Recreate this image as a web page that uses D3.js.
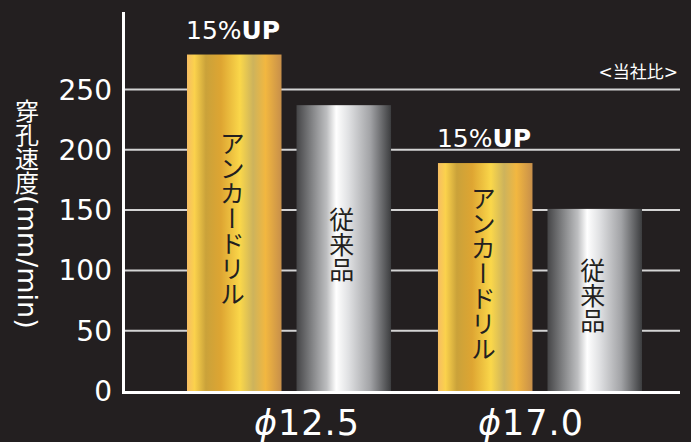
<!DOCTYPE html>
<html>
<head>
<meta charset="utf-8">
<script src="https://cdn.jsdelivr.net/npm/d3@7/dist/d3.min.js"></script>
<style>
  html, body { margin: 0; padding: 0; background: #231f20; }
  svg { display: block; }
</style>
</head>
<body>
<div id="chart"></div>
<script>
// data
var groups = ['ϕ12.5', 'ϕ17.0'];
var series = ['アンカードリル', '従来品'];
var anchorValues = [279, 189];
var conventionalValues = [237, 151];
var upLabels = ['15%', '15%'];
var yTicks = [0, 50, 100, 150, 200, 250];
var yTitle = '穿孔速度(mm/min)';
var noteText = '<当社比>';

var W = 691, H = 442;
var bg = '#231f20';
// nudges for the group labels, the original is not centred on the groups
var labelShift = [18, -9];

var svg = d3.select('#chart').
    append('svg').
    attr('width', W).
    attr('height', H);

svg.append('rect').attr('width', W).attr('height', H).attr('fill', bg);

// gradients
var defs = svg.append('defs');
var gold = defs.append('linearGradient').attr('id', 'gold').
    attr('x1', '0').attr('x2', '1').attr('y1', '0').attr('y2', '0');
[[0, '#f6bd63'], [0.08, '#fbd24c'], [0.2, '#caa23a'], [0.36, '#dea532'],
 [0.56, '#fad74a'], [0.7, '#cdb35c'], [0.83, '#f2b740'], [1, '#c78f4a']].
    forEach(function(s) { gold.append('stop').attr('offset', s[0]).attr('stop-color', s[1]); });
var silver = defs.append('linearGradient').attr('id', 'silver').
    attr('x1', '0').attr('x2', '1').attr('y1', '0').attr('y2', '0');
[[0, '#454547'], [0.15, '#7d7e80'], [0.32, '#bdbec0'], [0.42, '#ffffff'],
 [0.55, '#e0e1e3'], [0.78, '#a2a3a6'], [1, '#3c3d3f']].
    forEach(function(s) { silver.append('stop').attr('offset', s[0]).attr('stop-color', s[1]); });

// scales
var y = d3.scaleLinear().domain([0, 300]).range([391, 29.2]);
var x0 = d3.scaleBand().domain(groups).range([163.5, 665.5]).
    paddingInner(0.187).paddingOuter(0.0936);
var x1 = d3.scaleBand().domain(series).range([0, x0.bandwidth()]).paddingInner(0.137);

var plotLeft = 125, plotRight = 680;

// gridlines
svg.append('g').selectAll('line').
    data(yTicks.filter(function(t) { return t > 0; })).
    enter().
    append('line').
    attr('x1', plotLeft).attr('x2', plotRight).
    attr('y1', function(d) { return y(d); }).
    attr('y2', function(d) { return y(d); }).
    attr('stroke', '#d4d4d4').attr('stroke-width', 2);

// tick labels
svg.append('g').selectAll('text').
    data(yTicks).
    enter().
    append('text').
    attr('x', 112).
    attr('y', function(d) { return y(d) + 10; }).
    attr('text-anchor', 'end').
    attr('fill', '#ffffff').
    style('font-family', 'DejaVu Sans').
    style('font-size', '28px').
    text(function(d) { return d; });

// bars
var rows = groups.map(function(g, i) {
    return [
        {group: g, key: series[0], value: anchorValues[i], fill: 'url(#gold)'},
        {group: g, key: series[1], value: conventionalValues[i], fill: 'url(#silver)'}
    ];
});

var gGroup = svg.append('g').selectAll('g').
    data(rows).
    enter().
    append('g').
    attr('transform', function(d) { return 'translate(' + x0(d[0].group) + ',0)'; });

gGroup.selectAll('rect').
    data(function(d) { return d; }).
    enter().
    append('rect').
    attr('x', function(d) { return x1(d.key); }).
    attr('y', function(d) { return y(d.value); }).
    attr('width', x1.bandwidth()).
    attr('height', function(d) { return y(0) - y(d.value); }).
    attr('fill', function(d) { return d.fill; });

// vertical labels inside bars
gGroup.selectAll('text.barlab').
    data(function(d) { return d; }).
    enter().
    append('text').
    attr('class', 'barlab').
    attr('x', function(d) { return x1(d.key) + x1.bandwidth() / 2 - 2; }).
    attr('y', function(d) { return (y(d.value) + y(0)) / 2 - 4; }).
    attr('text-anchor', 'middle').
    style('writing-mode', 'vertical-rl').
    style('font-family', '"Noto Sans CJK JP"').
    style('font-size', '25px').
    attr('fill', '#231f20').
    text(function(d) { return d.key; });

// 15%UP labels
var up = svg.append('g').selectAll('text').
    data(groups).
    enter().
    append('text').
    attr('x', function(d) { return x0(d) + x1(series[0]) - 1; }).
    attr('y', function(d, i) { return y(anchorValues[i]) - 16; }).
    attr('fill', '#ffffff').
    style('font-family', 'DejaVu Sans').
    style('font-size', '25px');
up.append('tspan').text(function(d, i) { return upLabels[i]; });
up.append('tspan').style('font-weight', 'bold').text('UP');

// axes lines
svg.append('line').attr('x1', 123.5).attr('x2', 123.5).attr('y1', 12).attr('y2', 394).
    attr('stroke', '#ffffff').attr('stroke-width', 3);
svg.append('line').attr('x1', 122).attr('x2', plotRight).attr('y1', 392.5).attr('y2', 392.5).
    attr('stroke', '#ffffff').attr('stroke-width', 3);

// group labels
var gl = svg.append('g').selectAll('text').
    data(groups).
    enter().
    append('text').
    attr('x', function(d, i) { return x0(d) + x0.bandwidth() / 2 + labelShift[i]; }).
    attr('y', 435).
    attr('text-anchor', 'middle').
    attr('fill', '#ffffff').
    style('font-family', 'DejaVu Sans').
    style('font-size', '35px').
    style('letter-spacing', '1px');
gl.append('tspan').style('font-style', 'italic').text(function(d) { return d.slice(0, 1); });
gl.append('tspan').text(function(d) { return d.slice(1); });

// y title, vertical writing
svg.append('text').
    attr('x', 27).
    attr('y', 99).
    style('writing-mode', 'vertical-rl').
    style('font-family', '"Noto Sans CJK JP"').
    style('font-size', '24px').
    attr('fill', '#ffffff').
    selectAll('tspan').
    data([yTitle.slice(0, 4), yTitle.slice(4)]).
    enter().
    append('tspan').
    style('font-family', function(d, i) { return i ? 'DejaVu Sans' : '"Noto Sans CJK JP"'; }).
    style('font-size', function(d, i) { return i ? '27px' : '24px'; }).
    text(function(d) { return d; });

// note
svg.append('text').
    attr('x', 678).
    attr('y', 78).
    attr('text-anchor', 'end').
    attr('fill', '#ffffff').
    style('font-family', '"DejaVu Sans", "Noto Sans CJK JP"').
    style('font-size', '17px').
    text(noteText);
</script>
</body>
</html>
